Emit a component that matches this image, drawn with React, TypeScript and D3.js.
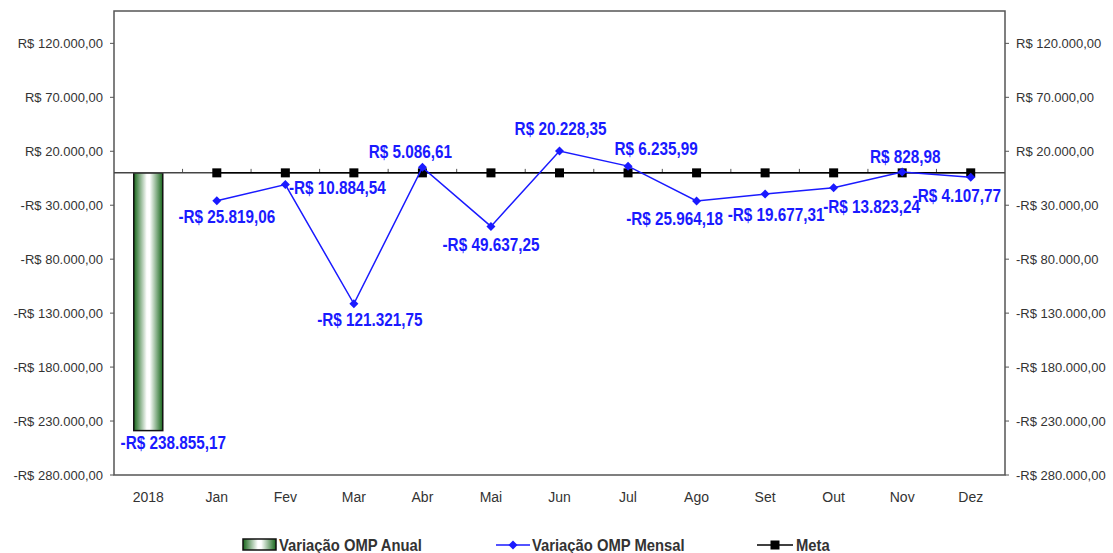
import * as d3 from 'd3';

const categories = ['2018', 'Jan', 'Fev', 'Mar', 'Abr', 'Mai', 'Jun', 'Jul', 'Ago', 'Set', 'Out', 'Nov', 'Dez'];
const annualCategory = '2018';
const annualValue = -238855.17;
const months = ['Jan', 'Fev', 'Mar', 'Abr', 'Mai', 'Jun', 'Jul', 'Ago', 'Set', 'Out', 'Nov', 'Dez'];
const monthlyValues = [-25819.06, -10884.54, -121321.75, 5086.61, -49637.25, 20228.35, 6235.99, -25964.18, -19677.31, -13823.24, 828.98, -4107.77];
const metaValues = [0, 0, 0, 0, 0, 0, 0, 0, 0, 0, 0, 0];
const yTicks = [120000, 70000, 20000, -30000, -80000, -130000, -180000, -230000, -280000];
const seriesNames = ['Variação OMP Anual', 'Variação OMP Mensal', 'Meta'];

// where the data labels sit relative to their point (px)
const labelOffsets: [number, number][] = [
  [10, 16], [52, 3], [16, 16], [-12, -16], [0, 18], [1, -22],
  [28, -17], [-22, 18], [11, 21], [38, 19], [3, -15], [-14, 18],
];

const W = 1113;
const H = 553;
const margin = { left: 114, right: 108, top: 11, bottom: 78 };
const plotW = W - margin.left - margin.right;
const plotH = H - margin.top - margin.bottom;

const fmt = (v: number) => {
  const s = Math.abs(v).toFixed(2).split('.');
  const int = s[0].replace(/\B(?=(\d{3})+(?!\d))/g, '.');
  return (v < 0 ? '-' : '') + 'R$ ' + int + ',' + s[1];
};

const BLUE = '#1a1aff';

export default function App() {
  const x = d3.scaleBand().domain(categories).range([0, plotW]);
  const y = d3.scaleLinear().domain([-280000, 150000]).range([plotH, 0]);
  const cx = (c: string) => (x(c) as number) + x.bandwidth() / 2;
  const zero = y(0);

  const line = d3.line<number>()
    .x((d, i) => cx(months[i]))
    .y((d) => y(d));

  const barW = 29;
  const axisFont = { fontFamily: 'Liberation Sans, Arial, sans-serif', fontSize: 13, fill: '#333' };

  const diamond = (px: number, py: number, r: number) =>
    `M${px},${py - r}L${px + r},${py}L${px},${py + r}L${px - r},${py}Z`;

  // condensed bold label, like the Excel original
  const label = (key: string | number, px: number, py: number, txt: string) => (
    <g key={key} transform={`translate(${px},${py}) scale(0.85,1)`}>
      <text dy="0.35em" textAnchor="middle" fontFamily="Liberation Sans, Arial, sans-serif"
        fontWeight={700} fontSize={18} fill={BLUE}>{txt}</text>
    </g>
  );

  const legendText = (px: number, txt: string) => (
    <g transform={`translate(${px},545) scale(0.87,1)`}>
      <text dy="0.35em" fontFamily="Liberation Sans, Arial, sans-serif" fontSize={17} fontWeight={700} fill="#333">{txt}</text>
    </g>
  );

  return (
    <svg width={W} height={H} style={{ position: 'absolute', left: 0, top: 0, background: '#fff' }}>
      <defs>
        <linearGradient id="barGrad" x1="0" x2="1" y1="0" y2="0">
          <stop offset="0" stopColor="#17661a" />
          <stop offset="0.45" stopColor="#ffffff" />
          <stop offset="0.55" stopColor="#ffffff" />
          <stop offset="1" stopColor="#17661a" />
        </linearGradient>
      </defs>
      <g transform={`translate(${margin.left},${margin.top})`}>
        <rect x={0} y={0} width={plotW} height={plotH} fill="#fff" stroke="#555" strokeWidth={1.5} />

        {/* y ticks both sides */}
        {yTicks.map((t) => (
          <g key={t}>
            <line x1={-4} x2={0} y1={y(t)} y2={y(t)} stroke="#555" />
            <text x={-11} y={y(t)} dy="0.35em" textAnchor="end" {...axisFont}>{fmt(t)}</text>
            <line x1={plotW} x2={plotW + 4} y1={y(t)} y2={y(t)} stroke="#555" />
            <text x={plotW + 11} y={y(t)} dy="0.35em" textAnchor="start" {...axisFont}>{fmt(t)}</text>
          </g>
        ))}

        {/* category axis on zero */}
        {categories.slice(1).map((c) => (
          <line key={c} x1={x(c)} x2={x(c)} y1={zero - 4} y2={zero} stroke="#555" />
        ))}
        {categories.map((c) => (
          <text key={c} x={cx(c)} y={plotH + 22} dy="0.35em" textAnchor="middle" {...axisFont} fontSize={14}>{c}</text>
        ))}

        {/* annual bar */}
        <rect x={cx(annualCategory) - barW / 2} y={zero} width={barW} height={y(annualValue) - zero}
          fill="url(#barGrad)" stroke="#111" strokeWidth={1.5} />

        <line x1={0} x2={plotW} y1={zero} y2={zero} stroke="#444" strokeWidth={1.5} />

        {/* meta */}
        <path d={line(metaValues) as string} fill="none" stroke="#000" strokeWidth={1.5} />
        {metaValues.map((v, i) => (
          <rect key={i} x={cx(months[i]) - 4.5} y={y(v) - 4.5} width={9} height={9} fill="#000" />
        ))}

        {/* monthly */}
        <path d={line(monthlyValues) as string} fill="none" stroke={BLUE} strokeWidth={1.5} />
        {monthlyValues.map((v, i) => (
          <path key={i} d={diamond(cx(months[i]), y(v), 4.5)} fill={BLUE} />
        ))}

        {/* data labels */}
        {label('annual', cx(annualCategory) + 25, y(annualValue) + 12, fmt(annualValue))}
        {monthlyValues.map((v, i) =>
          label(i, cx(months[i]) + labelOffsets[i][0], y(v) + labelOffsets[i][1], fmt(v)))}
      </g>

      {/* legend */}
      <rect x={243} y={539} width={33} height={11} fill="url(#barGrad)" stroke="#111" strokeWidth={1.5} />
      {legendText(279, seriesNames[0])}
      <line x1={496} x2={530} y1={545} y2={545} stroke={BLUE} strokeWidth={1.5} />
      <path d={diamond(513, 545, 4.5)} fill={BLUE} />
      {legendText(532, seriesNames[1])}
      <line x1={757} x2={793} y1={545} y2={545} stroke="#000" strokeWidth={1.5} />
      <rect x={770.5} y={540.5} width={9} height={9} fill="#000" />
      {legendText(796, seriesNames[2])}
    </svg>
  );
}
